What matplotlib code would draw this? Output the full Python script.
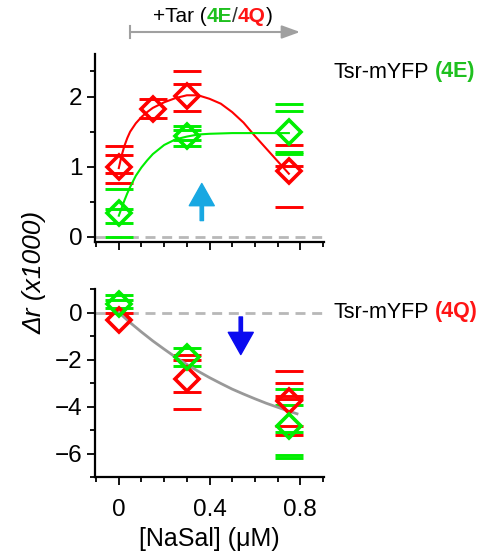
import matplotlib
matplotlib.use('Agg')
import matplotlib.pyplot as plt
from matplotlib.lines import Line2D

plt.rcParams['font.family'] = ['Liberation Sans', 'DejaVu Sans']
plt.rcParams['font.size'] = 15

RED = '#ff0000'
GREEN = '#00ee00'
TXT_GREEN = '#1fc01f'
TXT_RED = '#ff1414'
GRAY = '#999999'

# ---- top panel data (Tsr-mYFP 4E / 4Q, +Tar) ----
top_red_x = [0, 0.15, 0.3, 0.75]
top_red_y = [1.0, 1.83, 2.01, 0.94]
top_green_x = [0, 0.3, 0.75]
top_green_y = [0.34, 1.44, 1.49]

top_red_cap_x = [0, 0, 0, 0, 0.15, 0.15, 0.3, 0.3, 0.3, 0.75, 0.75, 0.75]
top_red_cap_y = [1.30, 1.17, 0.91, 0.77, 1.97, 1.70, 2.37, 2.18, 1.79, 1.31, 1.01, 0.43]
top_green_cap_x = [0, 0, 0, 0, 0.3, 0.3, 0.3, 0.3, 0.75, 0.75, 0.75, 0.75]
top_green_cap_y = [0.68, 0.40, 0.20, 0.0, 1.58, 1.52, 1.38, 1.30, 1.89, 1.80, 1.21, 1.18]

# fitted curves
red_fit_x = [0, 0.0125, 0.025, 0.0375, 0.05, 0.075, 0.1, 0.125, 0.15, 0.2, 0.25, 0.3, 0.35,
             0.4, 0.45, 0.5, 0.55, 0.6, 0.65, 0.7, 0.75]
red_fit_y = [0.98, 1.16, 1.30, 1.41, 1.50, 1.62, 1.71, 1.78, 1.84, 1.92, 1.98, 2.02, 2.02,
             1.97, 1.90, 1.78, 1.63, 1.44, 1.26, 1.08, 0.90]
green_fit_x = [0, 0.0125, 0.025, 0.0375, 0.05, 0.075, 0.1, 0.125, 0.15, 0.2, 0.25, 0.3, 0.35,
               0.4, 0.5, 0.6, 0.75]
green_fit_y = [0.30, 0.41, 0.52, 0.62, 0.71, 0.87, 0.99, 1.09, 1.18, 1.31, 1.39, 1.43, 1.46,
               1.47, 1.48, 1.48, 1.48]

# ---- bottom panel data (no Tar) ----
bot_red_x = [0, 0.3, 0.75]
bot_red_y = [-0.30, -2.84, -3.77]
bot_green_x = [0, 0.3, 0.75]
bot_green_y = [0.38, -1.89, -4.84]

bot_red_cap_x = [0, 0.3, 0.3, 0.3, 0.3, 0.75, 0.75, 0.75, 0.75, 0.75, 0.75]
bot_red_cap_y = [0.0, -1.82, -2.03, -3.38, -4.09, -2.48, -2.98, -3.56, -3.70, -4.84, -5.22]
bot_green_cap_x = [0, 0, 0, 0.3, 0.3, 0.75, 0.75, 0.75, 0.75, 0.75]
bot_green_cap_y = [0.74, 0.55, 0.20, -1.49, -2.29, -3.26, -3.94, -5.08, -6.07, -6.19]

gray_fit_x = [0, 0.05, 0.1, 0.15, 0.2, 0.25, 0.3, 0.35, 0.4, 0.45, 0.5, 0.55, 0.6, 0.65, 0.7, 0.75, 0.786]
gray_fit_y = [0, -0.43, -0.83, -1.21, -1.56, -1.90, -2.21, -2.50, -2.77, -3.02, -3.26, -3.47,
              -3.67, -3.86, -4.03, -4.20, -4.31]

x_major = [0, 0.4, 0.8]
x_minor = [-0.1, 0.1, 0.2, 0.3, 0.5, 0.6, 0.7, 0.9]
x_labels = ['0', '0.4', '0.8']

W, H = 484, 556
fig = plt.figure(figsize=(W / 100, H / 100), dpi=100)
ax1 = fig.add_axes([95 / W, 1 - 242 / H, 229 / W, 188 / H])
ax2 = fig.add_axes([95 / W, 1 - 477 / H, 229 / W, 188 / H])


def style_axis(ax):
    for s in ['top', 'right']:
        ax.spines[s].set_visible(False)
    for s in ['left', 'bottom']:
        ax.spines[s].set_linewidth(1.6)
    ax.tick_params(which='major', direction='out', length=6, width=1.3, pad=3, labelsize=17.5)
    ax.tick_params(which='minor', direction='out', length=3.5, width=1.3)
    ax.tick_params(axis='x', which='major', pad=10)
    ax.set_xlim(-0.105, 0.905)
    ax.set_xticks(x_major)
    ax.set_xticks(x_minor, minor=True)


def panel(ax, red_x, red_y, green_x, green_y, rcx, rcy, gcx, gcy):
    ax.axhline(0, color='#b8b8b8', lw=2, ls=(0, (3.6, 2.4)), zorder=0)
    ax.plot(rcx, rcy, ls='none', marker='_', ms=20, mew=2.1, color=RED, zorder=2)
    ax.plot(gcx, gcy, ls='none', marker='_', ms=20, mew=2.1, color=GREEN, zorder=2)
    ax.plot(red_x, red_y, ls='none', marker='D', ms=12.5, mew=2.6, mfc='none', mec=RED, zorder=4)
    ax.plot(green_x, green_y, ls='none', marker='D', ms=12.5, mew=2.6, mfc='none', mec=GREEN, zorder=4)


# top panel
style_axis(ax1)
panel(ax1, top_red_x, top_red_y, top_green_x, top_green_y,
      top_red_cap_x, top_red_cap_y, top_green_cap_x, top_green_cap_y)
ax1.plot(red_fit_x, red_fit_y, color=RED, lw=1.5, zorder=3)
ax1.plot(green_fit_x, green_fit_y, color=GREEN, lw=1.5, zorder=3)
ax1.set_ylim(-0.076, 2.61)
ax1.set_yticks([0, 1, 2])
ax1.set_yticks([0.5, 1.5, 2.36], minor=True)
ax1.set_xticklabels([])
ax1.annotate('', xy=(0.366, 0.76), xytext=(0.366, 0.23),
             arrowprops=dict(color='#18a8e2', width=2.4, headwidth=18, headlength=16, shrink=0))

# bottom panel
style_axis(ax2)
panel(ax2, bot_red_x, bot_red_y, bot_green_x, bot_green_y,
      bot_red_cap_x, bot_red_cap_y, bot_green_cap_x, bot_green_cap_y)
ax2.plot(gray_fit_x, gray_fit_y, color=GRAY, lw=2, zorder=3)
ax2.set_ylim(-7, 1)
ax2.set_yticks([0, -2, -4, -6])
ax2.set_yticks([1, -1, -3, -5, -7], minor=True)
ax2.set_xticklabels(x_labels)
ax2.set_xlabel('[NaSal] (μM)', fontsize=18, labelpad=4)
ax2.annotate('', xy=(0.538, -1.79), xytext=(0.538, -0.19),
             arrowprops=dict(color='#0a0af0', width=2.4, headwidth=18, headlength=16, shrink=0))

# y label shared
fig.text(35 / W, 1 - 272 / H, 'Δr (x1000)', rotation=90, style='italic',
         ha='center', va='center', fontsize=19)


def chain(first, pieces):
    prev = first
    for s, c, w, dx in pieces:
        prev = ax1.annotate(s, xy=(1, 0), xycoords=prev, xytext=(dx, 0),
                            textcoords='offset points', ha='left', va='bottom',
                            color=c, fontweight=w, fontsize=prev.get_fontsize(),
                            annotation_clip=False)
    return prev


t1 = fig.text(333 / W, 1 - 72 / H, 'Tsr-mYFP', ha='left', va='center', fontsize=15.5)
chain(t1, [('(4E)', TXT_GREEN, 'bold', 4.3)])
t2 = fig.text(333 / W, 1 - 312 / H, 'Tsr-mYFP', ha='left', va='center', fontsize=15.5)
chain(t2, [('(4Q)', TXT_RED, 'bold', 4.3)])

# +Tar header with arrow
t3 = fig.text(153 / W, 1 - 17 / H, '+Tar (', ha='left', va='center', fontsize=15)
chain(t3, [('4E', TXT_GREEN, 'bold', 0), ('/', '#333333', 'normal', 0),
           ('4Q', TXT_RED, 'bold', 0), (')', 'black', 'normal', 0)])
ax1.annotate('', xy=(300 / W, 1 - 32 / H), xytext=(130 / W, 1 - 32 / H),
             xycoords='figure fraction', textcoords='figure fraction',
             arrowprops=dict(arrowstyle='-|>,head_length=11,head_width=4', mutation_scale=1,
                             color='#a0a0a0', lw=1.5, shrinkA=0, shrinkB=0),
             annotation_clip=False)
fig.add_artist(Line2D([130 / W, 130 / W], [1 - 26 / H, 1 - 38 / H],
                      color='#a0a0a0', lw=1.5, transform=fig.transFigure))

fig.savefig('out.png', dpi=100)
